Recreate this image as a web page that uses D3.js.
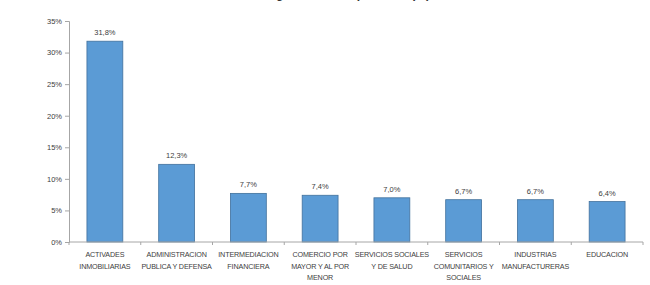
<!DOCTYPE html>
<html><head><meta charset="utf-8">
<script src="https://cdn.jsdelivr.net/npm/d3@7"></script>
<style>
html,body{margin:0;padding:0;background:#fff;}
svg{display:block;font-family:"Liberation Sans",Arial,sans-serif;}
</style></head>
<body>
<svg id="c" width="650" height="285"></svg>
<script>
const title = "Estructura del PIB según actividad por rama (%)";
const categories = [
  "ACTIVADES\nINMOBILIARIAS",
  "ADMINISTRACION\nPUBLICA Y DEFENSA",
  "INTERMEDIACION\nFINANCIERA",
  "COMERCIO POR\nMAYOR Y AL POR\nMENOR",
  "SERVICIOS SOCIALES\nY DE SALUD",
  "SERVICIOS\nCOMUNITARIOS Y\nSOCIALES",
  "INDUSTRIAS\nMANUFACTURERAS",
  "EDUCACION"
];
const values = [31.8, 12.3, 7.7, 7.4, 7.0, 6.7, 6.7, 6.4];
const valueLabels = ["31,8%", "12,3%", "7,7%", "7,4%", "7,0%", "6,7%", "6,7%", "6,4%"];
const yTicks = [0, 5, 10, 15, 20, 25, 30, 35];

(function () {
const svg = d3.select("#c");
const mLeft = 69, mRight = 643, mTop = 21, mBottom = 242;

const x = d3.scaleBand().domain(categories).range([mLeft, mRight]).paddingInner(0.5).paddingOuter(0.25);
const y = d3.scaleLinear().domain([0, 35]).range([mBottom, mTop]);

// title (cut off at the top, as in the reference)
svg.append("text").attr("x", 430).attr("y", -2).attr("text-anchor", "end")
  .attr("font-size", 12).attr("font-weight", "bold").attr("fill", "#333").text(title);

// y axis
const yAxis = svg.append("g").attr("transform", `translate(${mLeft},0)`)
  .call(d3.axisLeft(y).tickValues(yTicks).tickSize(4).tickPadding(3).tickFormat(d => d + "%"));
yAxis.select(".domain").attr("stroke", "#a6a6a6");
yAxis.selectAll(".tick line").attr("stroke", "#a6a6a6");
yAxis.selectAll(".tick text").attr("font-size", 7.5).attr("fill", "#404040")
  .attr("font-family", "Liberation Sans, Arial, sans-serif");

// bars
svg.selectAll("rect.bar").data(values).join("rect").attr("class", "bar")
  .attr("x", (d, i) => x(categories[i]))
  .attr("y", d => y(d))
  .attr("width", x.bandwidth())
  .attr("height", d => y(0) - y(d))
  .attr("fill", "#5b9bd5").attr("stroke", "#41719c").attr("stroke-width", 0.8);

// value labels
svg.selectAll("text.val").data(values).join("text").attr("class", "val")
  .attr("x", (d, i) => x(categories[i]) + x.bandwidth() / 2)
  .attr("y", d => y(d) - 6)
  .attr("text-anchor", "middle").attr("font-size", 7.5).attr("fill", "#404040")
  .text((d, i) => valueLabels[i]);

// x axis
const step = (mRight - mLeft) / categories.length;
svg.append("line").attr("x1", mLeft).attr("x2", mRight).attr("y1", mBottom).attr("y2", mBottom)
  .attr("stroke", "#a6a6a6");
svg.selectAll("line.xt").data(d3.range(categories.length + 1)).join("line").attr("class", "xt")
  .attr("x1", i => mLeft + i * step).attr("x2", i => mLeft + i * step)
  .attr("y1", mBottom).attr("y2", mBottom + 3).attr("stroke", "#a6a6a6");

const cl = svg.selectAll("text.cat").data(categories).join("text").attr("class", "cat")
  .attr("x", d => x(d) + x.bandwidth() / 2)
  .attr("y", 257)
  .attr("text-anchor", "middle").attr("font-size", 7.2).attr("letter-spacing", -0.15).attr("fill", "#404040");
cl.each(function(d) {
  const t = d3.select(this);
  d.split("\n").forEach((line, k) => {
    t.append("tspan").attr("x", t.attr("x")).attr("dy", k === 0 ? 0 : 11.5).text(line);
  });
});
})();
</script>
</body></html>
